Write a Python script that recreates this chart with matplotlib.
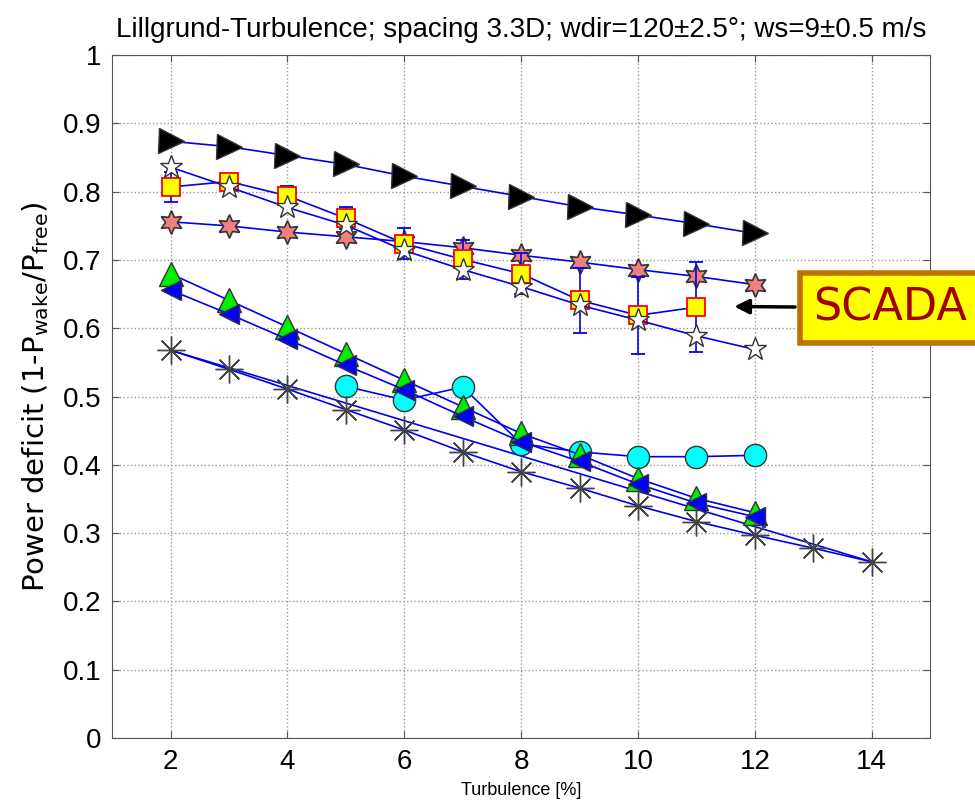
import numpy as np
import matplotlib
matplotlib.use("Agg")
import matplotlib.pyplot as plt

# turbulence intensity [%]
turb = np.arange(2, 13)
turb_scada = np.arange(2, 12)
turb_circ = np.arange(5, 13)
turb_ast = np.arange(2, 15)

# power deficit series
scada = [0.807, 0.815, 0.794, 0.761, 0.724, 0.701, 0.680, 0.641, 0.619, 0.631]
scada_err = [0.022, 0.005, 0.015, 0.016, 0.023, 0.029, 0.030, 0.048, 0.056, 0.066]
black_tri = [0.874, 0.866, 0.853, 0.840, 0.823, 0.808, 0.793, 0.778, 0.766, 0.753, 0.739]
white_star = [0.836, 0.807, 0.777, 0.751, 0.714, 0.686, 0.661, 0.634, 0.612, 0.589, 0.569]
pink_hex = [0.756, 0.750, 0.741, 0.734, 0.727, 0.718, 0.707, 0.697, 0.686, 0.676, 0.664]
green_tri = [0.680, 0.641, 0.602, 0.563, 0.524, 0.485, 0.446, 0.415, 0.380, 0.351, 0.330]
blue_tri = [0.656, 0.621, 0.584, 0.546, 0.510, 0.471, 0.434, 0.405, 0.372, 0.344, 0.324]
cyan_circ = [0.515, 0.495, 0.514, 0.431, 0.419, 0.412, 0.412, 0.414]
asterisk = [0.568, 0.540, 0.511, 0.481, 0.451, 0.419, 0.390, 0.366, 0.340, 0.317, 0.297, 0.278, 0.258]

fig = plt.figure(figsize=(9.75, 8), dpi=100)
ax = fig.add_axes([0.115, 0.0775, 0.839, 0.8535])

LINE = '#0000ee'
EDGE = '#333333'
lw = 1.2

ax.plot(turb, black_tri, '-', color=LINE, lw=lw, marker='>', ms=18,
        mfc='black', mec=EDGE, zorder=3)
ax.plot(turb, pink_hex, '-', color=LINE, lw=lw, marker=(6, 1, 0), ms=17,
        mfc='#f08080', mec=EDGE, mew=1.2, zorder=3)
ax.plot(turb, white_star, '-', color=LINE, lw=lw, marker='*', ms=17,
        mfc='white', mec=EDGE, mew=1.0, zorder=4)
ax.errorbar(turb_scada, scada, yerr=scada_err, fmt='-s', color=LINE, lw=lw,
            ms=13, mfc='yellow', mec='red', mew=1.3, capsize=5,
            elinewidth=1.2, ecolor=LINE, zorder=3)
ax.plot(turb_circ, cyan_circ, '-', color=LINE, lw=lw, marker='o', ms=16,
        mfc='cyan', mec=EDGE, zorder=3)
ax.plot(turb, green_tri, '-', color=LINE, lw=lw, marker='^', ms=17,
        mfc='#00ee00', mec=EDGE, zorder=3)
ax.plot(turb, blue_tri, '-', color=LINE, lw=lw, marker='<', ms=15,
        mfc='#0000ff', mec=EDGE, zorder=3)
ax.plot(turb_ast, asterisk, '-', color=LINE, lw=lw, marker=(8, 2, 0), ms=20,
        mec='#444444', mew=1.0, zorder=3)
# straight line from first to last asterisk point
ax.plot(turb_ast[[0, -1]], [asterisk[0], asterisk[-1]], '-', color=LINE,
        lw=lw, zorder=2)

ax.set_xlim(1, 15)
ax.set_ylim(0, 1)
ax.set_xticks(np.arange(2, 15, 2))
ax.set_yticks(np.arange(0, 1.01, 0.1))
ax.set_yticklabels(['0', '0.1', '0.2', '0.3', '0.4', '0.5', '0.6', '0.7',
                    '0.8', '0.9', '1'])
for lab in ax.get_xticklabels() + ax.get_yticklabels():
    lab.set_fontfamily('Liberation Sans')
    lab.set_fontsize(20)
ax.tick_params(direction='in', length=5, color='#555555', pad=8,
               top=True, right=True)
ax.grid(True, linestyle=':', color='#999999', lw=1.0)
for sp in ax.spines.values():
    sp.set_color('#555555')

ax.set_title('Lillgrund-Turbulence; spacing 3.3D; wdir=120±2.5°; ws=9±0.5 m/s',
             family='Liberation Sans', fontsize=20, pad=13)
ax.set_xlabel('Turbulence [%]', family='Liberation Sans', fontsize=13,
              labelpad=5)
ax.set_ylabel('Power deficit (1-P$_{\\mathregular{wake}}$/P$_{\\mathregular{free}}$)',
              family='DejaVu Sans', fontsize=21, labelpad=8)

ax.annotate('SCADA', xy=(11.6, 0.632), xytext=(0.857, 0.630),
            xycoords='data', textcoords='axes fraction',
            fontsize=32, color='#a00000', family='DejaVu Sans',
            ha='left', va='center',
            bbox=dict(boxstyle='square,pad=0.3', fc='yellow', ec='#c07000', lw=4),
            arrowprops=dict(arrowstyle='-|>', color='black', lw=2.5,
                            mutation_scale=22),
            annotation_clip=False)

fig.savefig('out.png', dpi=100)
